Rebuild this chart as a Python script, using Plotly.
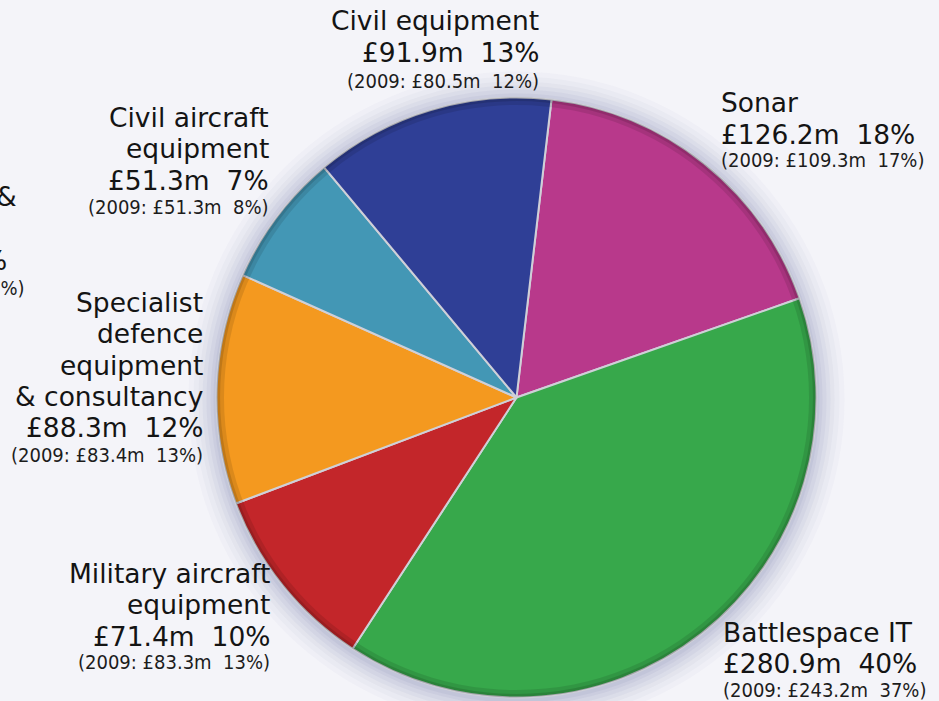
import plotly.graph_objects as go

# ---- data ----
segments = ["Sonar", "Battlespace IT", "Military aircraft equipment",
            "Specialist defence equipment & consultancy",
            "Civil aircraft equipment", "Civil equipment"]
revenue_2010 = [126.2, 280.9, 71.4, 88.3, 51.3, 91.9]      # £m
share_2010 = [18, 40, 10, 12, 7, 13]                       # %
revenue_2009 = [109.3, 243.2, 83.3, 83.4, 51.3, 80.5]      # £m
share_2009 = [17, 37, 13, 13, 8, 12]                       # %
name_lines = [["Sonar"], ["Battlespace IT"], ["Military aircraft", "equipment"],
              ["Specialist", "defence", "equipment", "& consultancy"],
              ["Civil aircraft", "equipment"], ["Civil equipment"]]
# fragments of a label cut off at the left edge of the picture
cut_fragments = ["&", "%", "1%)"]

# ---- styles / layout ----
colors = ["#b8398b", "#37a84b", "#c3262a", "#f4991f", "#4397b5", "#2f3f96"]
W, H = 939, 701
CX, CY, R = 516.5, 397.5, 300
BG = "#f4f4f9"
MAIN_FONT = dict(family="DejaVu Sans", size=26.5, color="#141414")
SUB_FONT = dict(family="DejaVu Sans Condensed, DejaVu Sans", size=20, color="#1c1c1c")
STEP = 31.5

# label anchor: x (px), alignment, y centre of first line (px), gap to the 2009 line (px)
label_pos = [
    (719, "left", 102.5, 26),
    (720.5, "left", 632, 26.5),
    (271.5, "right", 573, 25.5),
    (205, "right", 302, 27),
    (271, "right", 117.5, 26.5),
    (541, "right", 20.5, 29),
]
frag_pos = [(19, 196, MAIN_FONT), (9, 260, MAIN_FONT), (27, 288, SUB_FONT)]


def px(x):
    return x / W


def py(y):
    return 1 - y / H


dom = dict(x=[px(CX - R), px(CX + R)], y=[py(CY + R), py(CY - R)])

fig = go.Figure()
fig.add_trace(go.Pie(
    labels=segments,
    values=revenue_2010,
    sort=False,
    direction="clockwise",
    rotation=6.7,
    marker=dict(colors=colors, line=dict(color="#cfd0d8", width=2)),
    textinfo="none",
    hoverinfo="label+value",
    showlegend=False,
    domain=dom,
))
# darker bevelled rim
for hole, a in [(0.975, 0.10), (0.988, 0.12)]:
    fig.add_trace(go.Pie(
        values=[1], sort=False, hole=hole, textinfo="none", hoverinfo="skip",
        marker=dict(colors=[f"rgba(0,0,0,{a})"], line=dict(width=0)),
        showlegend=False, domain=dom,
    ))

# soft halo around the pie
shapes = []
for dr, a in [(28, 0.035), (23, 0.04), (18, 0.05), (14, 0.06), (10, 0.07), (6, 0.08), (3, 0.09)]:
    shapes.append(dict(type="circle", xref="paper", yref="paper", layer="below",
                       x0=px(CX - R - dr), x1=px(CX + R + dr),
                       y0=py(CY + R + dr + 2), y1=py(CY - R - dr + 2),
                       fillcolor=f"rgba(110,120,165,{a})", line=dict(width=0)))

annotations = []
for i, seg in enumerate(segments):
    x, align, y0, gap = label_pos[i]
    lines = name_lines[i] + [f"£{revenue_2010[i]:.1f}m  {share_2010[i]}%"]
    for k, t in enumerate(lines):
        annotations.append(dict(text=t, x=px(x), y=py(y0 + k * STEP), xref="paper", yref="paper",
                                xanchor=align, yanchor="middle", showarrow=False,
                                font=MAIN_FONT, align=align))
    ysub = y0 + (len(lines) - 1) * STEP + gap
    annotations.append(dict(text=f"(2009: £{revenue_2009[i]:.1f}m  {share_2009[i]}%)",
                            x=px(x), y=py(ysub), xref="paper", yref="paper",
                            xanchor=align, yanchor="middle", showarrow=False,
                            font=SUB_FONT, align=align))

for t, (x, y, f) in zip(cut_fragments, frag_pos):
    annotations.append(dict(text=t, x=px(x), y=py(y), xref="paper", yref="paper",
                            xanchor="right", yanchor="middle", showarrow=False, font=f))

fig.update_layout(
    width=W, height=H,
    margin=dict(l=0, r=0, t=0, b=0),
    paper_bgcolor=BG, plot_bgcolor=BG,
    shapes=shapes,
    annotations=annotations,
)

fig.write_html(
    "out.html",
    config={"displayModeBar": False},
    post_script="document.body.style.margin='0';document.body.style.background='" + BG + "';",
)
